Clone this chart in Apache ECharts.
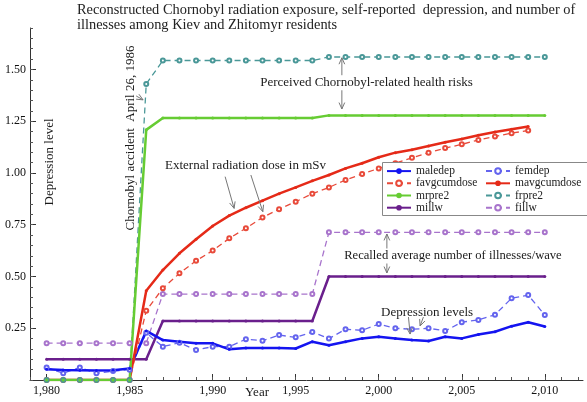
<!DOCTYPE html>
<html><head><meta charset="utf-8">
<script src="https://cdn.jsdelivr.net/npm/echarts@6/dist/echarts.min.js"></script>
<style>html,body{margin:0;padding:0;background:#fff}#c{width:587px;height:402px}</style>
</head><body><div id="c"></div>
<script>
// ---------- data ----------
const years = [1980,1981,1982,1983,1984,1985,1986,1987,1988,1989,1990,1991,1992,1993,1994,1995,1996,1997,1998,1999,2000,2001,2002,2003,2004,2005,2006,2007,2008,2009,2010];
const maledep = [0.052,0.048,0.047,0.046,0.047,0.055,0.237,0.193,0.185,0.177,0.177,0.148,0.155,0.155,0.155,0.152,0.185,0.168,0.185,0.201,0.209,0.201,0.193,0.188,0.209,0.201,0.220,0.233,0.260,0.279,0.258];
const femdep = [0.060,0.033,0.060,0.032,0.043,0.050,0.228,0.161,0.180,0.145,0.161,0.161,0.197,0.190,0.217,0.206,0.232,0.200,0.245,0.240,0.270,0.250,0.245,0.250,0.237,0.279,0.290,0.315,0.395,0.410,0.314];
const favgcumdose = [0,0,0,0,0,0,0.335,0.443,0.515,0.576,0.625,0.684,0.733,0.785,0.825,0.861,0.900,0.930,0.966,0.995,1.022,1.047,1.073,1.098,1.120,1.138,1.159,1.176,1.192,1.205,null];
const mavgcumdose = [0,0,0,0,0,0,0.431,0.531,0.612,0.680,0.744,0.794,0.832,0.866,0.900,0.930,0.962,0.990,1.022,1.047,1.076,1.098,1.112,1.130,1.148,1.164,1.182,1.198,1.211,1.224,null];
const mrpre2 = [0,0,0,0,0,0,1.208,1.265,1.265,1.265,1.265,1.265,1.265,1.265,1.265,1.265,1.265,1.278,1.278,1.278,1.278,1.278,1.278,1.278,1.278,1.278,1.278,1.278,1.278,1.278,1.278];
const frpre2 = [0,0,0,0,0,0,1.430,1.543,1.543,1.543,1.543,1.543,1.543,1.543,1.543,1.543,1.543,1.560,1.560,1.560,1.560,1.560,1.560,1.560,1.560,1.560,1.560,1.560,1.560,1.560,1.560];
const millw = [0.100,0.100,0.100,0.100,0.100,0.100,0.100,0.285,0.285,0.285,0.285,0.285,0.285,0.285,0.285,0.285,0.285,0.500,0.500,0.500,0.500,0.500,0.500,0.500,0.500,0.500,0.500,0.500,0.500,0.500,0.500];
const fillw = [0.178,0.178,0.178,0.178,0.178,0.178,0.178,0.415,0.415,0.415,0.415,0.415,0.415,0.415,0.415,0.415,0.415,0.713,0.713,0.713,0.713,0.713,0.713,0.713,0.713,0.713,0.713,0.713,0.713,0.713,0.713];
const xTickLabels = [1980,1985,1990,1995,2000,2005,2010];
const yTickLabels = [0.25,0.50,0.75,1.00,1.25,1.50];
const accidentYear = 1986;
const titleText = 'Reconstructed Chornobyl radiation exposure, self-reported  depression, and number of\nillnesses among Kiev and Zhitomyr residents';

// ---------- chart ----------
const FONT = '"Liberation Serif","DejaVu Serif",serif';
const chart = echarts.init(document.getElementById('c'), null, {renderer:'canvas'});
const pairs = arr => years.map((y,i)=>[y, arr[i]]);
const minorX = []; for (let y = 1979; y <= 2012; y++) minorX.push(y);
const minorY = []; for (let k = 0; k <= 34; k++) minorY.push(+(k*0.05).toFixed(2));

function solid(name, arr, color){
  return {name, type:'line', data:pairs(arr), xAxisIndex:0, yAxisIndex:0,
    symbol:'circle', symbolSize:3, showSymbol:true,
    lineStyle:{color, width:2.5}, itemStyle:{color}, connectNulls:false};
}
function dashed(name, arr, color){
  return {name, type:'line', data:pairs(arr), xAxisIndex:0, yAxisIndex:0,
    symbol:'emptyCircle', symbolSize:4, showSymbol:true,
    lineStyle:{color, width:1.3, type:[6,4]}, itemStyle:{color, borderWidth:1}, connectNulls:false};
}
const C = {
  maledep:'#1414f0', femdep:'#6464ee', favg:'#e84a3a', mavg:'#e52a18',
  mrpre2:'#66cc33', frpre2:'#4a9898', millw:'#6a1f8c', fillw:'#a874cc'
};
const series = [
  dashed('fillw', fillw, C.fillw),
  solid('millw', millw, C.millw),
  dashed('femdep', femdep, C.femdep),
  solid('maledep', maledep, C.maledep),
  dashed('favgcumdose', favgcumdose, C.favg),
  solid('mavgcumdose', mavgcumdose, C.mavg),
  dashed('frpre2', frpre2, C.frpre2),
  solid('mrpre2', mrpre2, C.mrpre2),
  {type:'line', data:[], clip:false, silent:true,
   markLine:{silent:true, symbol:['none','none'], label:{show:false}, animation:false,
     lineStyle:{color:'#777', width:1, type:'solid'},
     data:[[{coord:[accidentYear,0]},{coord:[accidentYear,1.76]}]]}}
];
const legendCommon = {orient:'vertical', itemWidth:24, itemHeight:7, itemGap:0, padding:0, selectedMode:false, z:12,
  textStyle:{fontFamily:FONT, fontSize:11.5, lineHeight:12.2, color:'#222'}};

const option = {
  animation:false,
  backgroundColor:'#fff',
  title:{text:titleText, left:77, top:3, padding:0,
    textStyle:{fontFamily:FONT, fontSize:14.4, fontWeight:'normal', color:'#222', lineHeight:14.5}},
  grid:{left:30, right:4, top:28, bottom:22, containLabel:false},
  legend:[
    Object.assign({left:386, top:165, data:['maledep','favgcumdose','mrpre2','millw']}, legendCommon),
    Object.assign({left:485, top:165, data:['femdep','mavgcumdose','frpre2','fillw']}, legendCommon)
  ],
  xAxis:[
    {type:'value', min:1979, max:2012.3, position:'bottom',
     axisLine:{show:true, lineStyle:{color:'#333'}},
     axisTick:{show:true, inside:true, length:6, customValues:xTickLabels, lineStyle:{color:'#333'}},
     axisLabel:{show:true, customValues:xTickLabels, fontFamily:FONT, fontSize:12, color:'#111', margin:5},
     splitLine:{show:false}},
    {type:'value', min:1979, max:2012.3, position:'bottom',
     axisLine:{show:false}, axisLabel:{show:false},
     axisTick:{show:true, inside:true, length:3, customValues:minorX, lineStyle:{color:'#555'}},
     splitLine:{show:false}}
  ],
  yAxis:[
    {type:'value', min:0, max:1.7, position:'left',
     axisLine:{show:true, lineStyle:{color:'#333'}},
     axisTick:{show:true, inside:true, length:6, customValues:yTickLabels, lineStyle:{color:'#333'}},
     axisLabel:{show:true, customValues:yTickLabels, fontFamily:FONT, fontSize:12, color:'#111', margin:4,
       formatter:v=>v.toFixed(2)},
     splitLine:{show:false}},
    {type:'value', min:0, max:1.7, position:'left',
     axisLine:{show:false}, axisLabel:{show:false},
     axisTick:{show:true, inside:true, length:3, customValues:minorY, lineStyle:{color:'#555'}},
     splitLine:{show:false}}
  ],
  series
};
chart.setOption(option);

// ---------- annotations (defined in data coordinates) ----------
const texts = [
  {t:'Perceived Chornobyl-related health risks', at:[1992.8,1.435], align:'left', bg:true, fs:13},
  {t:'External radiation dose in mSv', at:[1987.13,1.034], align:'left', fs:13},
  {t:'Recalled average number of illnesses/wave', at:[1997.86,0.599], align:'left', bg:true, fs:12.6},
  {t:'Depression levels', at:[2000.14,0.324], align:'left', fs:13},
  {t:'Chornobyl accident  April 26, 1986', at:[1985.03,1.169], align:'center', rot:true, fs:13},
  {t:'Depression level', at:[1980.2,1.053], align:'center', rot:true, fs:13},
  {t:'Year', at:[1992.67,-0.063], align:'center', fs:13}
];
const arrows = [
  [[1997.78,1.469],[1997.78,1.556]],
  [[1997.78,1.401],[1997.78,1.309]],
  [[1990.75,0.982],[1991.29,0.829]],
  [[1992.30,0.990],[1993.02,0.813]],
  [[2000.49,0.628],[2000.49,0.705]],
  [[2000.49,0.570],[2000.49,0.517]],
  [[2001.79,0.304],[2001.89,0.222]],
  [[2002.69,0.304],[2002.49,0.261]],
  [[1985.39,1.372],[1985.81,1.353]]
];
const px = p => chart.convertToPixel({gridIndex:0}, p);
const graphics = [];
// legend box
graphics.push({type:'rect', z:11, shape:{x:382.5, y:162.5, width:210, height:53},
  style:{fill:'#fff', stroke:'#888', lineWidth:1}});
arrows.forEach(a=>{
  const p1 = px(a[0]), p2 = px(a[1]);
  const ang = Math.atan2(p2[1]-p1[1], p2[0]-p1[0]);
  const L = 7, w = 0.42;
  const h1 = [p2[0]-L*Math.cos(ang-w), p2[1]-L*Math.sin(ang-w)];
  const h2 = [p2[0]-L*Math.cos(ang+w), p2[1]-L*Math.sin(ang+w)];
  graphics.push({type:'line', z:8, shape:{x1:p1[0],y1:p1[1],x2:p2[0],y2:p2[1]}, style:{stroke:'#777', lineWidth:1}});
  graphics.push({type:'polyline', z:8, shape:{points:[h1,p2,h2]}, style:{stroke:'#777', lineWidth:1, fill:null}});
});
texts.forEach(o=>{
  const p = px(o.at);
  const el = {type:'text', z:9, x:p[0], y:p[1],
    style:{text:o.t, fill:'#1a1a1a', font:o.fs+'px '+FONT, align:o.align, verticalAlign:'middle'}};
  if (o.bg){ el.style.backgroundColor = '#fff'; el.style.padding = [1,1]; }
  if (o.rot){ el.rotation = Math.PI/2; }
  graphics.push(el);
});
chart.setOption({graphic:graphics});
</script>
</body></html>
